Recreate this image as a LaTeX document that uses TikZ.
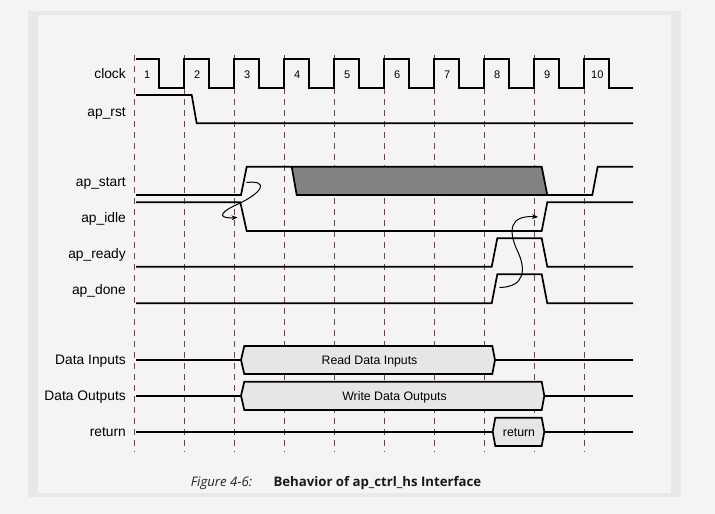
\documentclass[tikz,border=0pt]{standalone}
\usepackage{fontspec}
\setmainfont{Liberation Sans}
\newfontfamily\capfont{Open Sans}
\usetikzlibrary{arrows.meta}
\definecolor{bg}{HTML}{F4F4F4}
\definecolor{band}{HTML}{E8E8E8}
\definecolor{gridc}{RGB}{122,62,62}
\definecolor{busfill}{HTML}{E6E6E6}
\definecolor{dontcare}{HTML}{828282}
\begin{document}
\begin{tikzpicture}[x=1pt,y=-1pt,
  sig/.style={line width=1.7pt, line join=miter},
  busbox/.style={sig, fill=busfill},
  gridline/.style={gridc, line width=1.1pt, dash pattern=on 6pt off 5pt},
  lbl/.style={anchor=mid east, inner sep=0pt, font=\fontsize{13.8}{16}\selectfont},
  num/.style={inner sep=0pt, font=\fontsize{11}{13}\selectfont},
  bustxt/.style={inner sep=0pt, font=\fontsize{12.3}{14}\selectfont},
  causal/.style={line width=1pt, -{Stealth[length=6pt,width=5pt]}}
]
\useasboundingbox (0,0) rectangle (715,514);
\fill[bg] (0,0) rectangle (715,514);
\fill[band] (28,11) rectangle (681,496.7);
\fill[bg] (37.7,15) rectangle (671,492.7);

% cycle grid lines
\foreach \k in {0,...,9}
  \draw[gridline] ({134.3+50*\k},55) -- ({134.3+50*\k},452);

% labels
\node[lbl] (lclock) at (126,76) {clock};
\node[lbl] (lrst) at (126,113.5) {ap\_rst};
\node[lbl] (lstart) at (126,184) {ap\_start};
\node[lbl] (lidle) at (126,220) {ap\_idle};
\node[lbl] (lready) at (126,256) {ap\_ready};
\node[lbl] (ldone) at (126,291.5) {ap\_done};
\node[lbl] (ldin) at (126,362) {Data Inputs};
\node[lbl] (ldout) at (126,398) {Data Outputs};
\node[lbl] (lret) at (126,433.5) {return};

% cycle numbers
\foreach \k in {1,...,10}
  \node[num] (n\k) at ({134.3+50*(\k-1)+13},74.3) {\k};

% clock
\draw[sig] (136,59.3)
  foreach \k in {0,...,8}{ -- ({159.3+50*\k},59.3) -- ({159.3+50*\k},88.3) -- ({184.3+50*\k},88.3) -- ({184.3+50*\k},59.3) }
  -- (609.3,59.3) -- (609.3,88.3) -- (633,88.3);

% ap_rst
\draw[sig] (136,95) -- (191.7,95) -- (196.7,123.3) -- (633,123.3);

% ap_start with don't-care region
\fill[dontcare] (291.7,166.7) -- (541.7,166.7) -- (547.3,195) -- (296.7,195) -- cycle;
\draw[sig] (136,195) -- (241,195) -- (246.7,166.7) -- (541.7,166.7) -- (547.3,195) -- (592.3,195) -- (597.7,166.7) -- (633,166.7);
\draw[sig] (291.7,166.7) -- (296.7,195) -- (547.3,195);

% ap_idle
\draw[sig] (136,202.3) -- (240.3,202.3) -- (246.7,231) -- (541.7,231) -- (547.3,202.3) -- (633,202.3);

% ap_ready
\draw[sig] (136,266.7) -- (491.7,266.7) -- (497.3,238.3) -- (541.7,238.3) -- (547.3,266.7) -- (633,266.7);

% ap_done
\draw[sig] (136,303.3) -- (491.7,303.3) -- (497.3,274.3) -- (541.7,274.3) -- (547.3,303.3) -- (633,303.3);

% causality arrows
\coordinate (s1) at (246.5,182.5);
\coordinate (m1) at (238,204);
\coordinate (e1) at (237.5,217.5);
\draw[causal] (s1) .. controls (270,180) and (262,193) .. (m1) .. controls (214,215) and (222,218.5) .. (e1);
\coordinate (s2) at (499.5,287.5);
\coordinate (m2) at (517,250);
\coordinate (e2) at (538,217);
\draw[causal] (s2) .. controls (526,287) and (526,268) .. (m2) .. controls (508,230) and (510,215) .. (e2);

% Data Inputs
\draw[sig] (136,360) -- (241,360);
\draw[busbox] (241,360) -- (244.3,346) -- (492.3,346) -- (495,360) -- (492.3,374) -- (244.3,374) -- cycle;
\draw[sig] (495,360) -- (633,360);
\node[bustxt] (tdin) at (369.5,361.5) {Read Data Inputs};

% Data Outputs
\draw[sig] (136,395.7) -- (241,395.7);
\draw[busbox] (241,395.7) -- (244.3,381.7) -- (541.7,381.7) -- (544.3,395.7) -- (541.7,410) -- (244.3,410) -- cycle;
\draw[sig] (544.3,395.7) -- (633,395.7);
\node[bustxt] (tdout) at (394.5,397.2) {Write Data Outputs};

% return
\draw[sig] (136,431.7) -- (492.7,431.7);
\draw[busbox] (492.7,431.7) -- (495.3,417.7) -- (541.7,417.7) -- (544.3,431.7) -- (541.7,446) -- (495.3,446) -- cycle;
\draw[sig] (544.3,431.7) -- (633,431.7);
\node[bustxt] (tret) at (519,433) {return};

% caption
\node[anchor=base west, inner sep=0pt, text=black!85, font=\capfont\itshape\fontsize{13.2}{15}\selectfont] (capa) at (190.7,486.7) {Figure 4-6:};
\node[anchor=base west, inner sep=0pt, text=black!90, font=\capfont\bfseries\fontsize{13.2}{15}\selectfont] (capb) at (273.3,486.7) {Behavior of ap\_ctrl\_hs Interface};
\end{tikzpicture}
\end{document}
